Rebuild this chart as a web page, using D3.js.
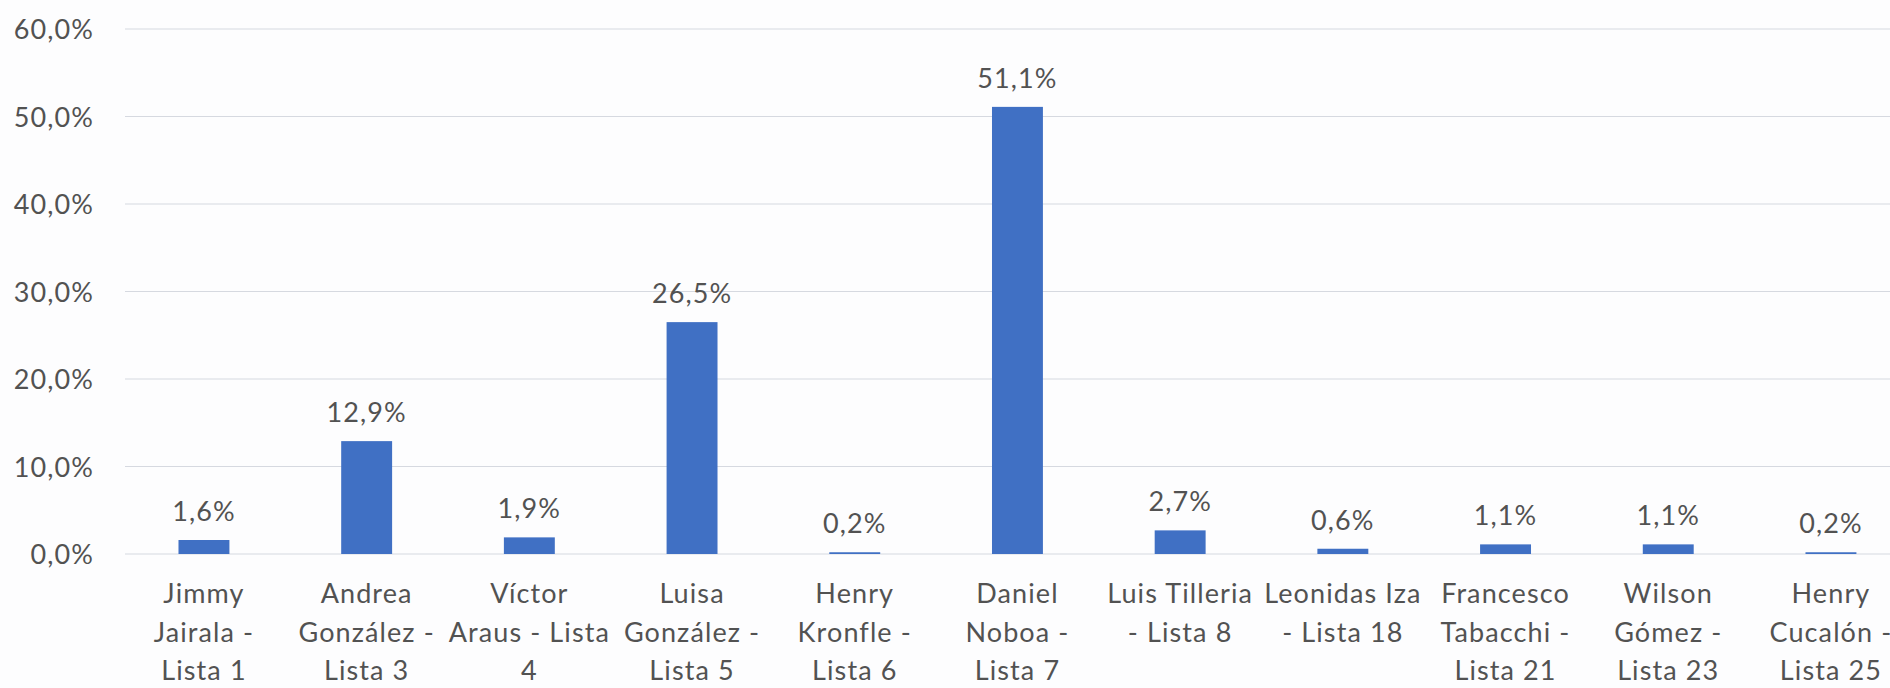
<!DOCTYPE html>
<html><head><meta charset="utf-8">
<script src="https://cdn.jsdelivr.net/npm/d3@7"></script>
<style>
html,body{margin:0;padding:0;background:#fdfdfe;}
svg{display:block;}
text{font-family:Lato,"Open Sans",sans-serif;fill:#525252;letter-spacing:1.1px;}
</style></head>
<body>
<svg id="chart" width="1890" height="688"></svg>
<script>
const categories = [
  ["Jimmy","Jairala -","Lista 1"],
  ["Andrea","González -","Lista 3"],
  ["Víctor","Araus - Lista","4"],
  ["Luisa","González -","Lista 5"],
  ["Henry","Kronfle -","Lista 6"],
  ["Daniel","Noboa -","Lista 7"],
  ["Luis Tilleria","- Lista 8"],
  ["Leonidas Iza","- Lista 18"],
  ["Francesco","Tabacchi -","Lista 21"],
  ["Wilson","Gómez -","Lista 23"],
  ["Henry","Cucalón -","Lista 25"]
];
const values = [1.6, 12.9, 1.9, 26.5, 0.2, 51.1, 2.7, 0.6, 1.1, 1.1, 0.2];
const yTicks = [0, 10, 20, 30, 40, 50, 60];

const svg = d3.select("#chart");
const left = 122.6, step = 162.7;
const x = d3.scaleBand().domain(d3.range(categories.length))
  .range([left, left + step * categories.length]).paddingInner(0.687).paddingOuter(0.3435);
const y = d3.scaleLinear().domain([0, 60]).range([554, 29]);
const fmt = v => d3.format(".1f")(v).replace(".", ",") + "%";
const FS = 27;

// gridlines
svg.append("g").selectAll("line").data(yTicks).join("line")
  .attr("x1", 125).attr("x2", 1890)
  .attr("y1", d => y(d)).attr("y2", d => y(d))
  .attr("stroke", "#d6d9e0").attr("stroke-width", 1.2);

// y axis labels
const yAxis = d3.axisLeft(y).tickValues(yTicks).tickFormat(fmt).tickSize(0).tickPadding(0);
const ga = svg.append("g").attr("transform", "translate(94,0)").call(yAxis);
ga.select(".domain").remove();
ga.selectAll("text").attr("font-size", FS).attr("font-family", "Lato").attr("fill", "#525252").attr("dy", "0.36em");

// bars
svg.append("g").selectAll("rect").data(values).join("rect")
  .attr("x", (d, i) => x(i)).attr("width", x.bandwidth())
  .attr("y", d => y(d)).attr("height", d => y(0) - y(d))
  .attr("fill", "#4070c4");

// value labels
svg.append("g").selectAll("text").data(values).join("text")
  .attr("x", (d, i) => x(i) + x.bandwidth() / 2)
  .attr("y", d => y(d) - 19)
  .attr("text-anchor", "middle").attr("font-size", FS)
  .text(d => fmt(d));

// category labels
const cg = svg.append("g").selectAll("text").data(categories).join("text")
  .attr("x", (d, i) => x(i) + x.bandwidth() / 2)
  .attr("y", 603).attr("text-anchor", "middle").attr("font-size", FS);
cg.selectAll("tspan").data(d => d).join("tspan")
  .attr("x", function() { return d3.select(this.parentNode).attr("x"); })
  .attr("dy", (d, i) => i === 0 ? 0 : 38.5)
  .text(d => d);
</script>
</body></html>
